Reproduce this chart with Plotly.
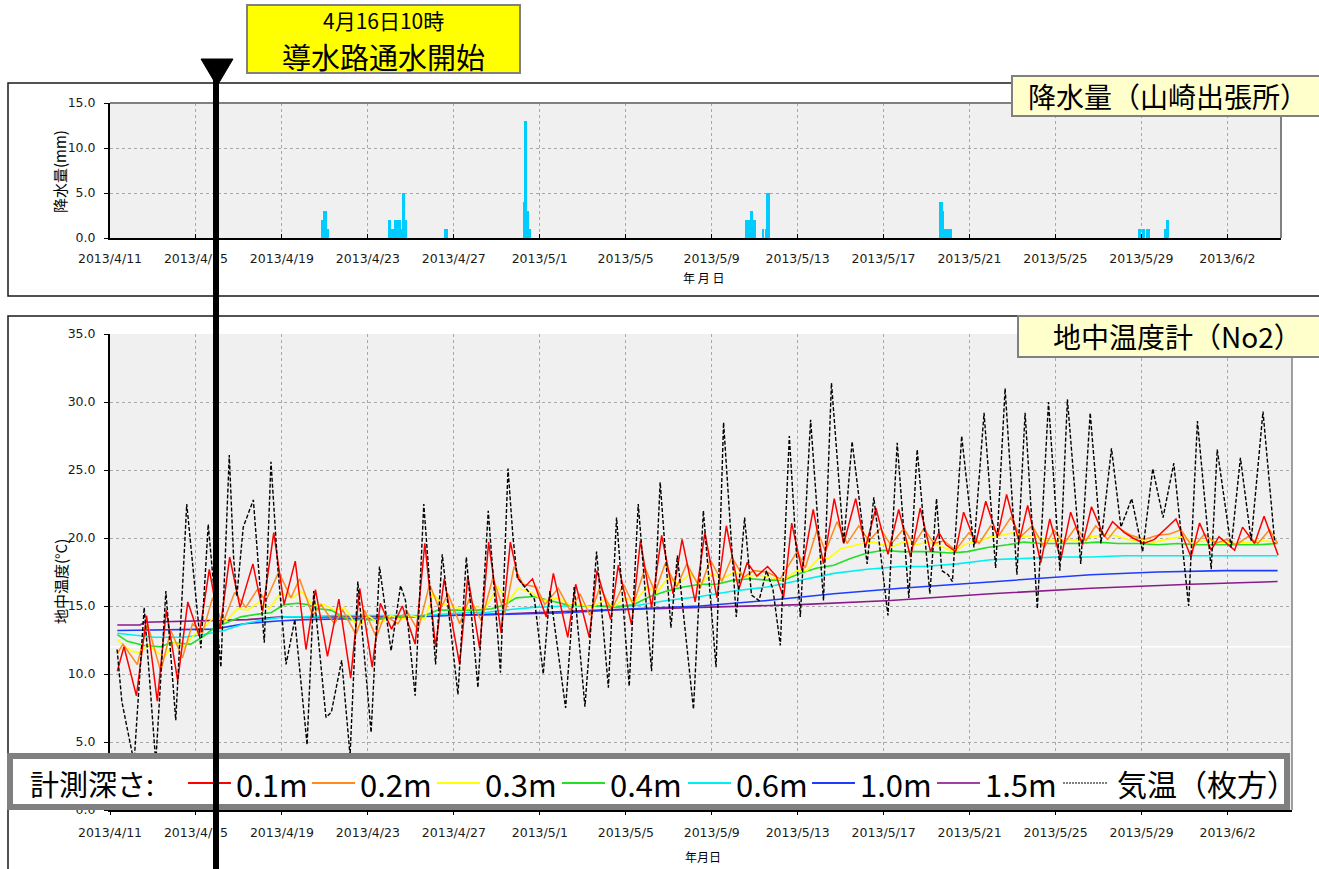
import pandas as pd
import plotly.graph_objects as go

# ---------------- data ----------------
START = pd.Timestamp("2013-04-11 00:00")

tick_labels = ["2013/4/11", "2013/4/15", "2013/4/19", "2013/4/23", "2013/4/27",
               "2013/5/1", "2013/5/5", "2013/5/9", "2013/5/13", "2013/5/17",
               "2013/5/21", "2013/5/25", "2013/5/29", "2013/6/2"]

# hourly rainfall (mm), 山崎出張所
rain_time = [
    "2013-04-20 21:00", "2013-04-20 22:00", "2013-04-20 23:00", "2013-04-21 00:00",
    "2013-04-21 01:00", "2013-04-21 02:00", "2013-04-21 03:00", "2013-04-21 04:00",
    "2013-04-24 00:00", "2013-04-24 01:00", "2013-04-24 02:00", "2013-04-24 03:00",
    "2013-04-24 04:00", "2013-04-24 05:00", "2013-04-24 06:00", "2013-04-24 07:00",
    "2013-04-24 08:00", "2013-04-24 09:00", "2013-04-24 10:00", "2013-04-24 11:00",
    "2013-04-24 12:00", "2013-04-24 13:00", "2013-04-24 14:00", "2013-04-24 15:00",
    "2013-04-24 16:00", "2013-04-24 17:00", "2013-04-24 18:00", "2013-04-24 19:00",
    "2013-04-26 14:00", "2013-04-26 15:00", "2013-04-26 16:00", "2013-04-26 17:00",
    "2013-04-30 07:00", "2013-04-30 08:00", "2013-04-30 09:00", "2013-04-30 10:00",
    "2013-04-30 11:00", "2013-04-30 12:00", "2013-04-30 13:00",
    "2013-05-10 15:00", "2013-05-10 16:00", "2013-05-10 17:00", "2013-05-10 18:00",
    "2013-05-10 19:00", "2013-05-10 20:00", "2013-05-10 21:00", "2013-05-10 22:00",
    "2013-05-10 23:00", "2013-05-11 00:00", "2013-05-11 01:00",
    "2013-05-11 09:00", "2013-05-11 10:00",
    "2013-05-11 13:00", "2013-05-11 14:00", "2013-05-11 15:00", "2013-05-11 16:00",
    "2013-05-19 15:00", "2013-05-19 16:00", "2013-05-19 17:00", "2013-05-19 18:00",
    "2013-05-19 19:00", "2013-05-19 20:00", "2013-05-19 21:00", "2013-05-19 22:00",
    "2013-05-20 00:00", "2013-05-20 01:00", "2013-05-20 03:00", "2013-05-20 04:00",
    "2013-05-28 21:00", "2013-05-28 22:00", "2013-05-28 23:00",
    "2013-05-29 02:00", "2013-05-29 03:00",
    "2013-05-29 06:00", "2013-05-29 07:00", "2013-05-29 08:00", "2013-05-29 09:00",
    "2013-05-30 03:00", "2013-05-30 04:00", "2013-05-30 05:00", "2013-05-30 06:00",
]
rain_mm = [
    2, 2, 3, 3, 3, 1, 1, 1,
    2, 2, 1, 1, 1, 1, 2, 2, 1, 1, 2, 2, 2, 1, 1, 5, 5, 2, 2, 2,
    1, 1, 1, 1,
    4, 13, 13, 3, 3, 1, 1,
    2, 2, 2, 1, 2, 3, 3, 2, 2, 2, 2,
    1, 1,
    1, 5, 5, 5,
    4, 4, 4, 3, 3, 1, 1, 1, 1, 1, 1, 1,
    1, 1, 1, 1, 1, 1, 1, 1, 1,
    1, 1, 2, 2,
]

# ground temperature (°C); time given as days elapsed since 2013/4/11 0:00
air_day = [0.33, 0.55, 0.8, 1.12, 1.59, 2.13, 2.6, 3.06, 3.57, 4.23, 4.57, 5.16, 5.55, 5.75,
           5.9, 6.2, 6.67, 7.18, 7.49, 7.8, 8.19, 8.6, 9.17, 9.48, 10.05, 10.3, 10.78, 11.17,
           11.53, 12.15, 12.54, 13.08, 13.52, 13.75, 14.2, 14.6, 15.15, 15.46, 16.19, 16.58,
           17.12, 17.6, 18.17, 18.52, 18.75, 18.95, 19.3, 19.75, 20.16, 20.47, 21.2, 21.6,
           22.1, 22.64, 23.19, 23.57, 24.16, 24.58, 25.2, 25.6, 26.1, 26.4, 27.15, 27.61,
           28.2, 28.55, 29.14, 29.53, 29.85, 30.2, 30.55, 30.85, 31.19, 31.61, 32.12, 32.6,
           33.2, 33.57, 34.14, 34.53, 35.23, 35.54, 36.2, 36.63, 37.17, 37.56, 38.15, 38.46,
           38.7, 39.0, 39.2, 39.63, 40.2, 40.67, 41.21, 41.65, 42.2, 42.58, 43.15, 43.67,
           44.2, 44.55, 45.17, 45.61, 46.11, 46.6, 47.04, 47.54, 48.05, 48.52, 49.0, 49.5,
           50.19, 50.6, 51.24, 51.52, 52.17, 52.6, 53.1, 53.65, 54.2]
air_temp = [11.8, 8.0, 6.0, 3.5, 14.9, 3.5, 16.1, 6.6, 22.5, 11.9, 21.0, 10.5, 26.1, 18.6,
            15.7, 20.8, 22.8, 12.3, 25.6, 18.0, 10.7, 14.0, 4.8, 16.1, 6.8, 7.2, 11.0, 4.0,
            16.8, 5.7, 17.9, 11.7, 16.5, 15.4, 8.4, 22.5, 10.7, 18.8, 8.5, 18.6,
            9.0, 22.0, 10.1, 25.1, 20.1, 17.1, 16.4, 15.5, 10.0, 16.1, 7.5, 16.4,
            7.6, 19.0, 9.0, 21.5, 9.1, 22.5, 10.2, 24.1, 13.4, 18.7, 7.4, 22.0,
            10.5, 28.5, 14.2, 21.5, 15.8, 15.4, 17.6, 16.2, 12.1, 27.5, 14.2, 28.7,
            15.4, 31.4, 19.6, 27.1, 18.1, 23.0, 14.3, 27.0, 15.6, 26.5, 15.9, 22.9,
            17.6, 17.3, 16.8, 27.5, 19.3, 29.2, 17.8, 31.0, 17.3, 29.2, 14.8, 30.0,
            17.6, 30.2, 18.1, 29.2, 19.6, 26.6, 20.8, 22.9, 19.0, 25.1, 21.5, 25.5,
            15.0, 28.6, 17.7, 26.5, 19.3, 25.9, 19.8, 29.3, 19.6]

d01_day = [0.34, 0.65, 1.23, 1.7, 2.2, 2.62, 3.15, 3.62, 4.15, 4.62, 5.12, 5.57, 6.05, 6.65,
           7.1, 7.62, 8.1, 8.62, 9.12, 9.56, 10.12, 10.65, 11.2, 11.62, 12.2, 12.58, 13.1,
           13.6, 14.2, 14.65, 15.15, 15.55, 16.27, 16.65, 17.2, 17.62, 18.2, 18.63, 19.0,
           19.3, 19.66, 20.3, 20.63, 21.3, 21.67, 22.3, 22.66, 23.3, 23.65, 24.27, 24.68,
           25.2, 25.67, 26.2, 26.62, 27.23, 27.68, 28.24, 28.68, 29.25, 29.65, 30.1, 30.6,
           31.0, 31.34, 31.72, 32.2, 32.72, 33.2, 33.7, 34.14, 34.7, 35.15, 35.64, 36.2,
           36.7, 37.25, 37.7, 38.18, 38.57, 38.9, 39.35, 39.72, 40.28, 40.75, 41.29, 41.72,
           42.3, 42.7, 43.31, 43.73, 44.24, 44.7, 45.25, 45.67, 46.26, 46.65, 47.2, 47.6,
           48.1, 48.6, 49.0, 49.6, 50.3, 50.7, 51.24, 51.6, 52.33, 52.7, 53.26, 53.7, 54.35]
d01_temp = [10.2, 12.0, 8.4, 14.3, 8.0, 14.7, 9.5, 15.3, 12.8, 17.7, 13.3, 18.6, 14.9, 18.1,
            14.6, 20.4, 15.1, 18.3, 11.8, 16.2, 11.3, 15.5, 9.7, 16.3, 10.5, 15.2, 13.3,
            15.0, 12.2, 19.6, 12.0, 17.0, 10.7, 17.2, 11.9, 19.7, 13.0, 19.7, 17.0,
            16.4, 17.0, 14.2, 17.4, 12.7, 16.6, 12.7, 17.6, 14.0, 18.0, 13.6, 19.8,
            14.9, 20.2, 15.9, 19.9, 15.3, 20.4, 15.6, 20.9, 16.2, 18.2, 17.2, 17.9,
            17.2, 15.6, 21.1, 17.6, 22.1, 18.1, 22.9, 19.6, 22.9, 19.3, 22.2, 18.8,
            22.1, 18.6, 22.2, 19.0, 20.4, 19.5, 19.0, 21.9, 19.6, 22.7, 20.1, 23.2,
            19.7, 22.4, 18.2, 21.4, 18.4, 21.9, 19.5, 22.3, 20.1, 21.2, 20.4, 20.0,
            19.6, 19.9, 20.5, 21.4, 18.6, 21.1, 19.1, 20.1, 19.1, 20.8, 19.6, 21.6, 18.75]

d02_day = [0.34, 0.6, 1.27, 1.74, 2.36, 2.83, 3.37, 3.84, 4.3, 4.77, 5.24, 5.8, 6.32, 6.85,
           7.26, 7.85, 8.42, 8.82, 9.43, 9.82, 10.44, 10.83, 11.45, 11.84, 12.39, 12.77,
           13.4, 13.78, 14.33, 14.87, 15.34, 15.73, 16.27, 16.74, 17.28, 17.82, 18.37, 18.8,
           19.22, 19.84, 20.23, 20.86, 21.4, 21.87, 22.33, 22.8, 23.34, 23.89, 24.35, 24.9,
           25.36, 25.83, 26.37, 26.84, 27.46, 27.93, 28.47, 28.94, 29.48, 29.95, 30.57,
           31.19, 31.97, 32.35, 32.9, 33.29, 33.83, 34.3, 34.84, 35.31, 35.85, 36.32, 36.94,
           37.4, 37.87, 38.34, 38.8, 39.35, 39.97, 40.44, 40.98, 41.37, 41.91, 42.38, 42.92,
           43.47, 43.93, 44.4, 44.94, 45.41, 45.87, 46.42, 46.88, 47.51, 48.13, 48.75, 49.3,
           49.84, 50.38, 50.93, 51.47, 51.94, 52.4, 52.95, 53.41, 53.96, 54.33]
d02_temp = [11.5, 12.2, 10.7, 13.7, 10.2, 13.2, 11.2, 13.7, 13.0, 15.6, 13.7, 16.0, 14.9, 16.2,
            15.4, 17.5, 15.6, 17.0, 14.3, 15.1, 13.7, 14.7, 12.9, 14.7, 12.7, 14.3,
            13.7, 14.7, 13.2, 16.6, 14.7, 15.9, 13.7, 15.6, 13.9, 17.1, 14.4, 17.9,
            16.6, 16.4, 15.1, 16.3, 14.7, 15.9, 14.3, 16.4, 14.7, 16.6, 15.1, 17.8,
            16.0, 18.1, 16.4, 18.1, 16.3, 18.4, 16.8, 18.6, 17.1, 17.6, 17.5,
            17.0, 19.0, 17.8, 20.6, 19.0, 21.2, 19.6, 20.9, 19.8, 20.7, 19.5, 20.7,
            19.5, 20.7, 19.6, 19.8, 19.1, 20.4, 19.6, 20.9, 20.2, 21.5, 20.1, 20.9,
            19.3, 20.6, 19.6, 20.8, 19.8, 20.9, 19.9, 20.8, 20.2, 19.9, 20.2, 20.3,
            20.6, 19.3, 20.3, 19.6, 19.9, 19.5, 20.1, 19.6, 20.6, 19.6]

d03_day = [0.34, 0.96, 1.43, 1.74, 2.52, 2.98, 3.45, 3.92, 4.38, 4.85, 5.39, 5.94, 6.4, 6.95,
           7.41, 7.96, 8.5, 8.89, 9.43, 9.98, 10.44, 10.91, 11.53, 12.0, 12.54, 13.08, 13.55,
           14.02, 14.64, 15.03, 15.49, 15.88, 16.5, 16.81, 17.44, 18.06, 18.52, 18.99, 19.6,
           20.16, 20.86, 21.48, 21.94, 22.41, 22.95, 23.49, 23.96, 24.43, 24.97, 25.44, 25.98,
           26.45, 26.99, 27.46, 28.0, 28.47, 29.09, 29.56, 30.1, 30.65, 31.34, 31.97, 32.43,
           32.98, 33.44, 33.99, 34.45, 35.0, 35.46, 36.0, 36.47, 36.94, 37.56, 38.03, 38.65,
           39.27, 39.89, 40.51, 40.98, 41.52, 42.07, 42.53, 43.0, 43.62, 44.09, 44.63, 45.1,
           45.64, 46.19, 46.73, 47.35, 47.97, 48.59, 49.2, 49.84, 50.46, 51.08, 51.7, 52.33,
           52.95, 53.57, 54.33]
d03_temp = [12.5, 11.7, 11.5, 12.2, 11.2, 12.3, 12.0, 12.9, 13.4, 14.2, 13.9, 14.8, 14.7, 15.3,
            14.8, 16.0, 15.6, 16.1, 15.1, 15.1, 14.7, 14.9, 13.4, 14.3, 13.7, 14.3, 14.0,
            14.3, 14.0, 15.9, 15.1, 15.0, 14.7, 15.0, 14.8, 16.4, 15.3, 16.3, 16.0,
            15.4, 15.6, 15.0, 15.1, 14.9, 15.4, 15.0, 15.6, 15.3, 16.4, 16.0, 17.1,
            16.6, 17.4, 16.6, 17.4, 17.0, 17.5, 17.1, 17.3, 17.1, 16.9, 17.6, 17.6,
            18.5, 18.5, 19.2, 19.4, 19.6, 19.7, 19.5, 19.4, 19.7, 19.5, 19.7, 19.4,
            19.0, 19.6, 19.8, 20.1, 20.2, 20.4, 20.1, 20.2, 19.8, 19.8, 19.9, 19.8,
            20.1, 20.2, 20.2, 19.9, 19.8, 19.7, 19.9, 20.1, 19.7, 19.8, 19.7, 19.6,
            19.7, 19.8, 19.7]

d04_day = [0.34, 0.81, 1.59, 2.36, 2.83, 3.76, 4.38, 4.85, 5.47, 6.09, 6.87, 7.49, 8.11, 8.73,
           9.2, 9.67, 10.29, 11.06, 11.69, 12.46, 13.24, 14.02, 14.64, 15.26, 15.88, 16.5,
           17.12, 17.75, 18.37, 18.91, 19.69, 20.47, 21.24, 22.02, 22.8, 23.57, 24.35, 25.13,
           25.91, 26.68, 27.46, 28.24, 29.01, 29.79, 30.57, 31.34, 32.12, 32.9, 33.68, 34.45,
           35.23, 36.0, 36.79, 38.18, 39.1, 39.89, 40.82, 41.76, 42.53, 43.31, 44.09, 45.02,
           45.95, 46.88, 47.82, 48.75, 49.68, 50.61, 51.55, 52.48, 53.41, 54.33]
d04_temp = [12.9, 12.4, 12.1, 12.0, 12.3, 12.2, 12.8, 13.4, 13.8, 14.2, 14.4, 14.5, 15.1, 15.2,
            15.1, 14.8, 14.7, 14.0, 14.0, 14.0, 14.2, 14.2, 14.3, 14.7, 14.7, 14.7,
            14.7, 14.8, 15.1, 15.6, 15.7, 15.4, 15.1, 15.0, 15.0, 14.9, 15.1, 15.7,
            16.1, 16.4, 16.6, 16.6, 16.9, 17.0, 16.9, 16.9, 17.4, 17.8, 18.0, 18.5,
            18.9, 19.1, 19.0, 19.0, 18.9, 19.0, 19.3, 19.5, 19.7, 19.6, 19.6, 19.6,
            19.7, 19.6, 19.6, 19.5, 19.6, 19.5, 19.5, 19.5, 19.5, 19.6]

d06_day = [0.34, 0.9, 2.05, 3.45, 4.38, 5.31, 6.25, 7.18, 8.11, 9.04, 10.5, 12.0, 14.64, 15.57,
           16.5, 17.44, 18.37, 19.69, 21.24, 24.35, 25.91, 27.46, 29.01, 30.57, 32.12, 33.68,
           35.23, 36.79, 37.87, 39.42, 40.98, 42.53, 44.09, 45.64, 47.2, 54.33]
d06_temp = [13.0, 12.9, 12.7, 12.7, 12.9, 13.2, 13.7, 14.0, 14.2, 14.2, 14.3, 14.3, 14.3, 14.4,
            14.5, 14.5, 14.7, 14.9, 15.0, 15.0, 15.4, 15.7, 16.1, 16.4, 16.9, 17.4,
            17.7, 17.9, 17.9, 18.1, 18.4, 18.5, 18.6, 18.6, 18.7, 18.7]

d10_day = [0.34, 4.85, 6.25, 7.8, 9.04, 12.5, 15.8, 18.13, 21.24, 24.35, 27.46, 30.57, 33.68,
           36.79, 39.42, 42.53, 45.64, 48.75, 51.85, 54.33]
d10_temp = [13.2, 13.3, 13.7, 13.9, 14.0, 14.1, 14.3, 14.4, 14.5, 14.8, 15.0, 15.4, 15.9,
            16.3, 16.6, 17.0, 17.3, 17.5, 17.6, 17.6]

d15_day = [0.34, 1.4, 1.6, 4.85, 6.4, 7.96, 10.6, 15.26, 18.13, 22.8, 27.46, 32.12, 36.32,
           40.98, 45.64, 50.3, 54.33]
d15_temp = [13.6, 13.6, 13.8, 13.9, 14.0, 14.2, 14.2, 14.3, 14.4, 14.7, 14.9, 15.1, 15.4,
            15.9, 16.3, 16.6, 16.8]

legend_labels = ["0.1m", "0.2m", "0.3m", "0.4m", "0.6m", "1.0m", "1.5m", "気温（枚方）"]

# ---------------- styling ----------------
W, H = 1319, 869
JP = "Noto Sans CJK JP"
NUM = "DejaVu Sans"
GRID = "#A8A8A8"
FRAME_GRAY = "#808080"


def px(x):
    return x / W


def py(y):
    return 1 - y / H


def to_time(days):
    return [(START + pd.Timedelta(days=float(d))).round("min") for d in days]


tick_vals = pd.to_datetime(tick_labels, format="%Y/%m/%d")

series = [
    # (day list, value list, colour, width, dash)
    (d15_day, d15_temp, "#8B1A8B", 1.6, "solid"),
    (d10_day, d10_temp, "#1E3CFF", 1.6, "solid"),
    (d06_day, d06_temp, "#00F0F0", 1.6, "solid"),
    (d04_day, d04_temp, "#22E022", 1.6, "solid"),
    (d03_day, d03_temp, "#FFFF00", 1.6, "solid"),
    (d02_day, d02_temp, "#FF8A1E", 1.5, "solid"),
    (d01_day, d01_temp, "#FF0000", 1.5, "solid"),
    (air_day, air_temp, "#000000", 1.4, "4px,2px"),
]
legend_colors = ["#FF0000", "#FF8A1E", "#FFFF00", "#22E022", "#00F0F0", "#1E3CFF", "#A040A0", "#000000"]

fig = go.Figure()

fig.add_trace(go.Bar(
    x=pd.to_datetime(rain_time), y=rain_mm, xaxis="x", yaxis="y",
    width=3600000 * 1.25, marker=dict(color="#00CCFF", line=dict(width=0)),
    hoverinfo="x+y",
))

for days, vals, col, wid, dash in series:
    fig.add_trace(go.Scatter(
        x=to_time(days), y=vals, mode="lines", xaxis="x2", yaxis="y2",
        line=dict(color=col, width=wid, dash=dash),
    ))

xcommon = dict(
    type="date", tickvals=tick_vals, ticktext=tick_labels, automargin=False,
    showgrid=True, gridcolor=GRID, griddash="dot", gridwidth=1,
    showline=True, linecolor="black", linewidth=2, zeroline=False,
    tickcolor="black", tickfont=dict(family=NUM, size=12.5, color="#1A1A1A"),
)
ycommon = dict(
    showgrid=True, gridcolor=GRID, griddash="dot", gridwidth=1, automargin=False,
    showline=True, linecolor="black", linewidth=2, zeroline=False,
    ticks="outside", ticklen=4, tickcolor="black", tickformat=".1f", dtick=5,
    tickfont=dict(family=NUM, size=12.5, color="#1A1A1A"), ticklabelstandoff=6,
)

fig.update_layout(
    width=W, height=H, margin=dict(l=0, r=0, t=0, b=0, autoexpand=False),
    paper_bgcolor="white", plot_bgcolor="#F0F0F0", showlegend=False, bargap=0,
    xaxis=dict(domain=[px(110), px(1281)], anchor="y",
               range=[START, START + pd.Timedelta(hours=54 * 24 + 12)],
               ticks="inside", ticklen=4, ticklabelstandoff=8, **xcommon),
    yaxis=dict(domain=[py(238), py(103)], anchor="x", range=[0, 15], **ycommon),
    xaxis2=dict(domain=[px(110), px(1292)], anchor="y2",
                range=[START, START + pd.Timedelta(days=55)],
                ticks="outside", ticklen=3, ticklabelstandoff=7, **xcommon),
    yaxis2=dict(domain=[py(810), py(334)], anchor="x2", range=[0, 35], **ycommon),
)

shapes = []


def rect(x0, y0, x1, y1, line_col, line_w, fill=None, layer="above"):
    d = dict(type="rect", xref="paper", yref="paper",
             x0=px(x0), x1=px(x1), y0=py(y1), y1=py(y0),
             line=dict(color=line_col, width=line_w), layer=layer)
    if fill:
        d["fillcolor"] = fill
    return d


def seg(x0, y0, x1, y1, col, w, dash="solid"):
    return dict(type="line", xref="paper", yref="paper",
                x0=px(x0), x1=px(x1), y0=py(y0), y1=py(y1),
                line=dict(color=col, width=w, dash=dash), layer="above")


# panel frames
shapes.append(rect(8, 83, 1345, 296, "#1A1A1A", 1.5, layer="below"))
shapes.append(rect(8, 316, 1345, 900, "#1A1A1A", 1.5, layer="below"))
# white reference line in the temperature panel
shapes.append(dict(type="line", xref="x2", yref="y2",
                   x0=START, x1=START + pd.Timedelta(days=55), y0=12, y1=12,
                   line=dict(color="white", width=1.5), layer="below"))
# plot area borders
shapes.append(seg(110, 103, 1281, 103, FRAME_GRAY, 2))
shapes.append(seg(1281, 103, 1281, 238, FRAME_GRAY, 2))
shapes.append(seg(1292, 334, 1292, 810, FRAME_GRAY, 1.5))
# title boxes
shapes.append(rect(1012, 76, 1345, 116, FRAME_GRAY, 2, fill="#FFFFCC"))
shapes.append(rect(1018, 316, 1345, 357, FRAME_GRAY, 2, fill="#FFFFCC"))
shapes.append(rect(247, 5, 520, 73, FRAME_GRAY, 2, fill="#FFFF00"))
# legend box
shapes.append(rect(10, 756, 1287, 807, FRAME_GRAY, 6, fill="white"))
leg_x = [188, 312, 437, 562, 688, 812, 937, 1063]
for i, x0 in enumerate(leg_x):
    if i == 7:
        shapes.append(seg(x0, 783, x0 + 45, 783, legend_colors[i], 1.2, "2px,1px"))
    else:
        shapes.append(seg(x0, 783, x0 + 43, 783, legend_colors[i], 2))
# water-introduction marker
shapes.append(seg(216, 62, 216, 900, "black", 6))
shapes.append(dict(type="path", xref="paper", yref="paper", layer="above",
                   path=f"M {px(201)},{py(59)} L {px(233)},{py(59)} L {px(217)},{py(86)} Z",
                   fillcolor="black", line=dict(color="black", width=1)))

fig.update_layout(shapes=shapes)

ann = []


def text(x, y, s, size, xanchor="center", angle=0, family=JP):
    ann.append(dict(x=px(x), y=py(y), xref="paper", yref="paper", text=s, showarrow=False,
                    xanchor=xanchor, yanchor="middle", textangle=angle,
                    font=dict(family=family, size=size, color="black")))


text(383, 20, "4月16日10時", 21)
text(383, 56, "導水路通水開始", 29)
text(1168, 96, "降水量（山崎出張所）", 28)
text(1177, 336, "地中温度計（No2）", 28)
text(60, 172, "降水量(mm)", 15, angle=-90)
text(60, 582, "地中温度(°C)", 15, angle=-90)
text(703, 277, "年 月 日", 12)
text(703, 856, "年月日", 12)
text(28, 783, "計測深さ:", 29, xanchor="left")
for i, x0 in enumerate(leg_x):
    lab_x = x0 + (52 if i == 7 else 46)
    text(lab_x, 783, legend_labels[i], 30 if i == 7 else 31, xanchor="left")

fig.update_layout(annotations=ann)

fig.write_html("out.html")
